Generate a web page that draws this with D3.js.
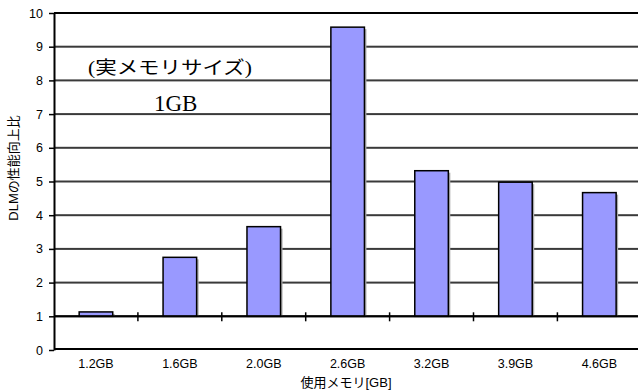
<!DOCTYPE html>
<html><head><meta charset="utf-8">
<script src="https://cdn.jsdelivr.net/npm/d3@7"></script>
<style>body{margin:0;background:#fff;}svg{display:block;}</style>
</head><body>
<script>
const categories = ["1.2GB","1.6GB","2.0GB","2.6GB","3.2GB","3.9GB","4.6GB"];
const values = [1.13, 2.75, 3.66, 9.58, 5.32, 4.98, 4.67];
const yTicks = [0,1,2,3,4,5,6,7,8,9,10];
const yTitle = "DLMの性能向上比";
const xTitle = "使用メモリ[GB]";
const noteLine1 = "(実メモリサイズ)";
const noteLine2 = "1GB";
const baseValue = 1;

(function () {
const W = 638, H = 392;
const svg = d3.select("body").append("svg").attr("width", W).attr("height", H);
const pLeft = 54, pTop = 13, pBottom = 350, pRight = 641.3;
const x = d3.scaleBand().domain(categories).range([pLeft, pRight]).paddingInner(0.6).paddingOuter(0.3);
const y = d3.scaleLinear().domain([0, 10]).range([pBottom, pTop]);
const sans = "'Liberation Sans', Arial, 'Noto Sans CJK JP', sans-serif";

// gridlines as thin rects
svg.append("g").selectAll("rect").data(yTicks.filter(d => d > 0)).join("rect")
  .attr("x", pLeft).attr("width", W - pLeft)
  .attr("y", d => y(d) - 1).attr("height", 2)
  .attr("fill", d => d === 10 ? "#000" : "#3a3a3a");
// bottom border
svg.append("rect").attr("x", pLeft).attr("y", y(0) - 2).attr("width", W - pLeft).attr("height", 2).attr("fill", "#000");

// bar shadows
svg.append("g").selectAll("rect").data(values).join("rect")
  .attr("x", (d, i) => x(categories[i]) + 2)
  .attr("y", d => y(d) + 2)
  .attr("width", x.bandwidth())
  .attr("height", d => y(baseValue) - y(d) - 2)
  .attr("fill", "#aaa");
// bars
svg.append("g").selectAll("rect").data(values).join("rect")
  .attr("x", (d, i) => x(categories[i]))
  .attr("y", d => y(d))
  .attr("width", x.bandwidth())
  .attr("height", d => y(baseValue) - y(d))
  .attr("fill", "#9999ff").attr("stroke", "#000").attr("stroke-width", 1.5);

// category axis at baseValue
const xAxis = d3.axisBottom(x).tickSize(0).tickFormat("");
const xg = svg.append("g").attr("transform", `translate(0,${y(baseValue)})`).call(xAxis);
xg.select(".domain").attr("stroke", "#000").attr("stroke-width", 2).attr("d", `M${pLeft},0H${W}`);
const gap = (x.step() - x.bandwidth()) / 2;
xg.selectAll("line.tk").data(categories.slice(1)).join("line").attr("class", "tk")
  .attr("x1", c => x(c) - gap).attr("x2", c => x(c) - gap)
  .attr("y1", -4).attr("y2", 5).attr("stroke", "#000").attr("stroke-width", 1.5);

// y axis
const yAxis = d3.axisLeft(y).tickValues(yTicks).tickSize(5).tickPadding(6).tickSizeOuter(0);
const yg = svg.append("g").attr("transform", `translate(${pLeft},0)`).call(yAxis);
yg.select(".domain").attr("stroke", "#000").attr("stroke-width", 2);
yg.selectAll(".tick line").attr("stroke", "#000").attr("stroke-width", 1.5);
yg.selectAll(".tick text").attr("font-family", sans).attr("font-size", 12.5).attr("fill", "#000");

// x labels
svg.append("g").selectAll("text").data(categories).join("text")
  .attr("x", c => x(c) + x.bandwidth() / 2).attr("y", 368)
  .attr("text-anchor", "middle").attr("font-family", sans).attr("font-size", 12.5).text(c => c);

// titles
svg.append("text").attr("x", 346).attr("y", 387).attr("text-anchor", "middle")
  .attr("font-family", sans).attr("font-size", 13).text(xTitle);
svg.append("text").attr("transform", "translate(18,168) rotate(-90)").attr("text-anchor", "middle")
  .attr("font-family", sans).attr("font-size", 13).text(yTitle);

// annotation
svg.append("text").attr("x", 88).attr("y", y(8.18)).attr("font-family", "'Liberation Serif', 'Noto Sans CJK JP', serif")
  .attr("font-size", 18).attr("textLength", 164).attr("lengthAdjust", "spacingAndGlyphs").text(noteLine1);
svg.append("text").attr("x", 154).attr("y", y(7.08)).attr("font-family", "'Liberation Serif', serif")
  .attr("font-size", 23).text(noteLine2);
})();
</script>
</body></html>
